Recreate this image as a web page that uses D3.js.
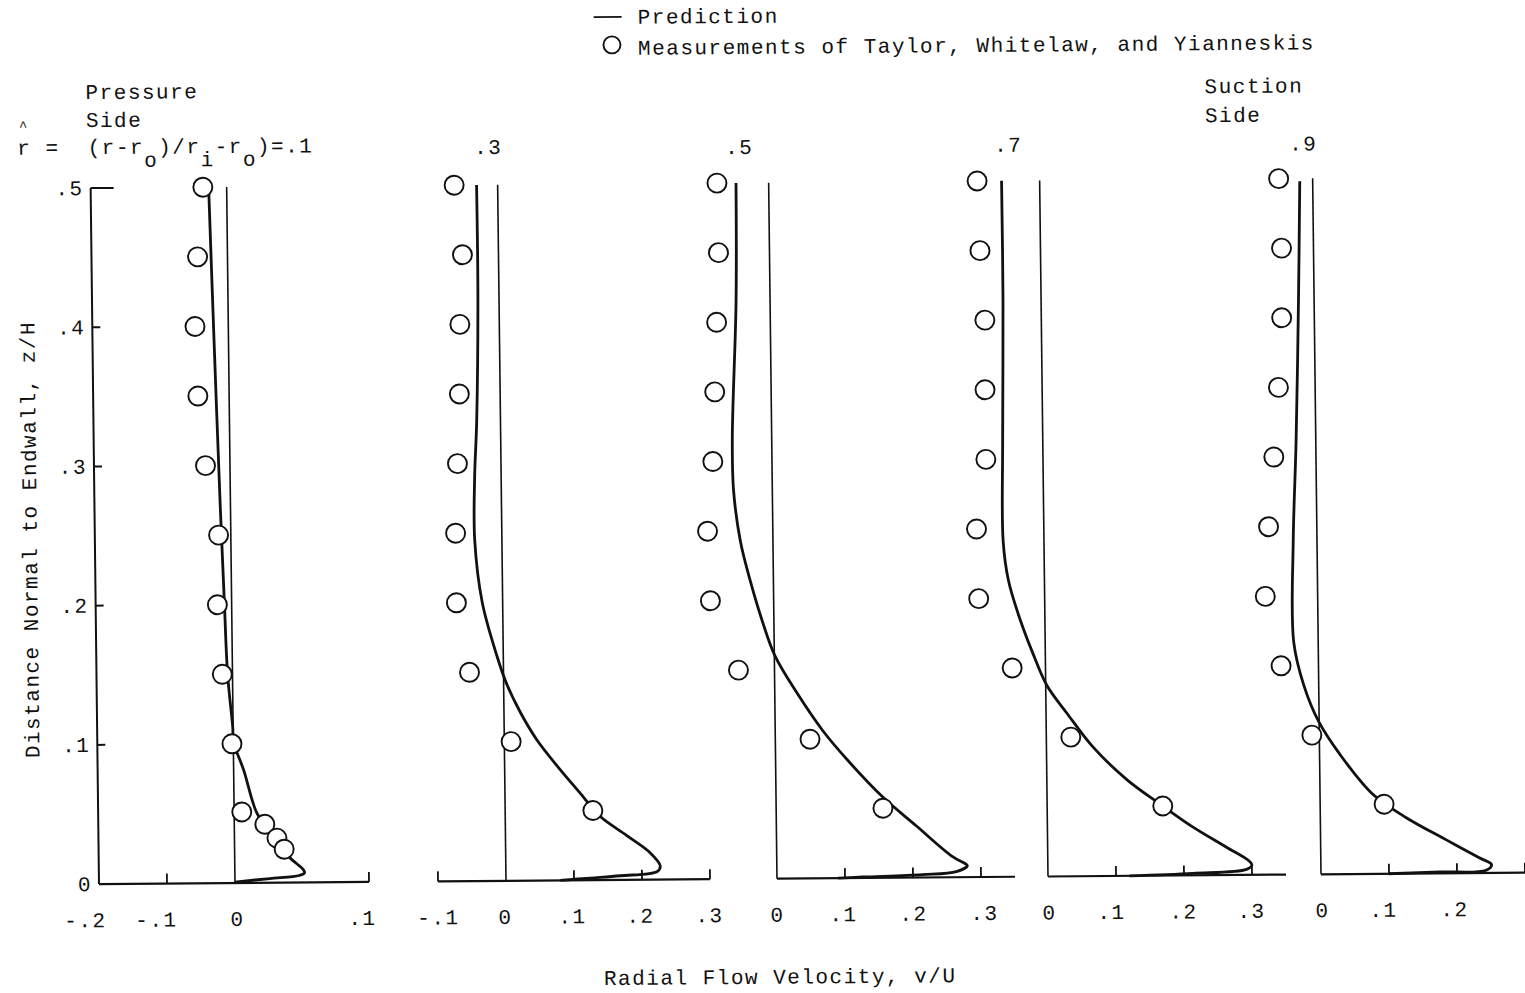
<!DOCTYPE html>
<html>
<head>
<meta charset="utf-8">
<script src="https://cdn.jsdelivr.net/npm/d3@7"></script>
<style>
  body { margin: 0; background: #fff; }
  svg text { font-family: "Liberation Mono", monospace; font-size: 21px; letter-spacing: 1.5px; fill: #111; }
</style>
</head>
<body>
<svg id="chart" width="1525" height="993"></svg>
<script>
// values: [z/H, v/U]
const predP1 = [[0.5,-0.0265],[0.385,-0.021],[0.27,-0.015],[0.2,-0.0106],[0.15,-0.0072],[0.112,-0.0006],[0.101,0.0003],[0.081,0.0075],[0.05,0.017],[0.0345,0.028],[0.018,0.041],[0.0093,0.051],[0.007,0.052],[0.005,0.048],[0.003,0.026],[0.0007,0]]
const predP2 = [[0.5,-0.031],[0.42,-0.031],[0.33,-0.035],[0.29,-0.039],[0.245,-0.040],[0.2,-0.030],[0.161,-0.009],[0.142,0.004],[0.121,0.024],[0.101,0.048],[0.08,0.081],[0.063,0.110],[0.046,0.139],[0.032,0.178],[0.02,0.211],[0.01,0.227],[0.006,0.223],[0.003,0.168],[0.0015,0.124],[0,0.08]]
const predP3 = [[0.5,-0.048],[0.415,-0.050],[0.315,-0.058],[0.279,-0.057],[0.243,-0.048],[0.214,-0.034],[0.185,-0.017],[0.16,0.001],[0.133,0.033],[0.106,0.070],[0.083,0.109],[0.058,0.157],[0.037,0.206],[0.015,0.258],[0.009,0.279],[0.008,0.280],[0.004,0.264],[0.002,0.214],[0.0007,0.126],[0,0.09]]
const predP4 = [[0.5,-0.056],[0.414,-0.056],[0.313,-0.059],[0.241,-0.060],[0.213,-0.053],[0.184,-0.036],[0.16,-0.018],[0.137,0.002],[0.117,0.031],[0.093,0.068],[0.069,0.118],[0.05,0.170],[0.035,0.213],[0.02,0.263],[0.01,0.296],[0.007,0.300],[0.004,0.292],[0.0014,0.213],[0,0.12]]
const predP5 = [[0.498,-0.019],[0.412,-0.023],[0.311,-0.029],[0.239,-0.035],[0.167,-0.036],[0.136,-0.022],[0.11,-0.001],[0.086,0.030],[0.057,0.078],[0.04,0.127],[0.024,0.185],[0.011,0.233],[0.006,0.251],[0.002,0.243],[0.001,0.175],[0,0.1]]

const measP1 = [[0.5,-0.035],[0.45,-0.044],[0.4,-0.049],[0.35,-0.046],[0.3,-0.036],[0.25,-0.018],[0.2,-0.021],[0.15,-0.015],[0.1,-0.002],[0.051,0.0057],[0.042,0.0228],[0.032,0.0317],[0.024,0.037]]
const measP2 = [[0.5,-0.064],[0.45,-0.053],[0.4,-0.058],[0.35,-0.060],[0.3,-0.064],[0.25,-0.068],[0.2,-0.068],[0.15,-0.050],[0.1,0.010],[0.05,0.129]]
const measP3 = [[0.5,-0.076],[0.45,-0.075],[0.4,-0.079],[0.35,-0.083],[0.3,-0.087],[0.25,-0.096],[0.2,-0.093],[0.15,-0.053],[0.1,0.051],[0.05,0.157]]
const measP4 = [[0.5,-0.092],[0.45,-0.089],[0.4,-0.083],[0.35,-0.084],[0.3,-0.084],[0.25,-0.099],[0.2,-0.097],[0.15,-0.049],[0.1,0.036],[0.05,0.170]]
const measP5 = [[0.5,-0.050],[0.45,-0.047],[0.4,-0.048],[0.35,-0.054],[0.3,-0.062],[0.25,-0.071],[0.2,-0.077],[0.15,-0.055],[0.1,-0.011],[0.05,0.094]]

// tick labels
const xTickLabels = [[-0.2,-0.1,0,0.1],[-0.1,0,0.1,0.2,0.3],[0,0.1,0.2,0.3],[0,0.1,0.2,0.3],[0,0.1,0.2]]
const yTicks = [0,0.1,0.2,0.3,0.4,0.5]
const headLabels = [null, ".3", ".5", ".7", ".9"]

const predictions = [predP1, predP2, predP3, predP4, predP5]
const measurements = [measP1, measP2, measP3, measP4, measP5]

// panel layout
const layout = [
    {zero: 235, dom: [-0.2, 0.1], ticks: [-0.1, 0.1], dx: [-14, -11, 2, -7], hx: 0, hy: 0},
    {zero: 506, dom: [-0.1, 0.3], ticks: [-0.1, 0.1, 0.2, 0.3], dx: [0, -1, -2, -2, -1], hx: 497, hy: 156},
    {zero: 777, dom: [0, 0.35], ticks: [0.1, 0.2, 0.3], dx: [0, -2, 0, 3], hx: 748, hy: 158},
    {zero: 1048, dom: [0, 0.35], ticks: [0.1, 0.2, 0.3], dx: [1, -5, -1, -1], hx: 1017, hy: 158},
    {zero: 1321, dom: [0, 0.3], ticks: [0.1, 0.2, 0.3], dx: [1, -6, -3], hx: 1312, hy: 159}
]

const fmt = v => v === 0 ? "0" : d3.format(".1f")(v).replace("−", "-").replace("0.", ".")

const svg = d3.select("#chart")
// the scanned figure sits slightly askew
const g = svg.append("g").attr("transform", "matrix(1,-0.008,0.012,1,-10.6,1.88)")

const y = d3.scaleLinear().domain([0, 0.5]).range([883, 187])

// y axis on the first panel
g.append("line").attr("x1", 99).attr("x2", 99).attr("y1", y(0.5)).attr("y2", y(0))
    .attr("stroke", "#111").attr("stroke-width", 2)
g.selectAll(".ytick").data(yTicks.filter(d => d > 0)).join("line")
    .attr("x1", 99).attr("x2", d => d === 0.5 ? 122 : 107)
    .attr("y1", d => y(d)).attr("y2", d => y(d))
    .attr("stroke", "#111").attr("stroke-width", 2)
g.selectAll(".ylab").data(yTicks).join("text")
    .attr("x", 92).attr("y", d => y(d) + 7)
    .attr("text-anchor", "end")
    .text(fmt)

const line = d3.line().curve(d3.curveCatmullRom.alpha(0.5))

layout.forEach((p, i) => {
    const x = i === 0
        ? d3.scaleLinear().domain([-0.2, 0, 0.1]).range([99, 235, 369])
        : d3.scaleLinear().domain([0, 0.1]).range([p.zero, p.zero + 68])

    const panel = g.append("g")

    // zero line
    panel.append("line").attr("x1", x(0)).attr("x2", x(0)).attr("y1", y(0.5)).attr("y2", y(0))
        .attr("stroke", "#111").attr("stroke-width", 1.6)

    // baseline and ticks
    panel.append("line").attr("x1", x(p.dom[0])).attr("x2", x(p.dom[1])).attr("y1", y(0)).attr("y2", y(0))
        .attr("stroke", "#111").attr("stroke-width", 2.2)
    panel.selectAll(".tick").data(p.ticks).join("line")
        .attr("x1", d => x(d)).attr("x2", d => x(d)).attr("y1", y(0)).attr("y2", y(0) - 10)
        .attr("stroke", "#111").attr("stroke-width", 1.8)
    panel.selectAll(".xlab").data(xTickLabels[i]).join("text")
        .attr("x", (d, j) => x(d) + p.dx[j]).attr("y", 926)
        .attr("text-anchor", "middle")
        .text(fmt)

    // prediction
    panel.append("path")
        .attr("d", line(predictions[i].map(d => [x(d[1]), y(d[0])])))
        .attr("fill", "none").attr("stroke", "#111").attr("stroke-width", 2.8)
        .attr("stroke-linejoin", "round")

    // measurements
    panel.selectAll("circle").data(measurements[i]).join("circle")
        .attr("cx", d => x(d[1])).attr("cy", d => y(d[0])).attr("r", 9.5)
        .attr("fill", "#fff").attr("stroke", "#111").attr("stroke-width", 1.9)

    if (headLabels[i]) {
        panel.append("text").attr("x", p.hx).attr("y", p.hy).attr("text-anchor", "middle").text(headLabels[i])
    }
})

// first panel heading: r-hat = (r-ro)/(ri-ro) = .1
g.append("text").attr("x", 28).attr("y", 129).style("font-size", "14px").text("^")
const h = g.append("text").attr("x", 26).attr("y", 153).style("white-space", "pre")
h.append("tspan").text("r =  (r-r")
h.append("tspan").attr("dy", 13).text("o")
h.append("tspan").attr("dy", -13).text(")/r")
h.append("tspan").attr("dy", 13).text("i")
h.append("tspan").attr("dy", -13).text("-r")
h.append("tspan").attr("dy", 13).text("o")
h.append("tspan").attr("dy", -13).text(")=.1")

g.append("text").attr("x", 95).attr("y", 98).text("Pressure")
g.append("text").attr("x", 95).attr("y", 126).text("Side")
g.append("text").attr("x", 1214).attr("y", 101).text("Suction")
g.append("text").attr("x", 1214).attr("y", 130).text("Side")

// legend
g.append("line").attr("x1", 604).attr("x2", 632).attr("y1", 20).attr("y2", 20)
    .attr("stroke", "#111").attr("stroke-width", 1.8)
g.append("text").attr("x", 648).attr("y", 27).text("Prediction")
g.append("circle").attr("cx", 622).attr("cy", 48).attr("r", 8.5)
    .attr("fill", "#fff").attr("stroke", "#111").attr("stroke-width", 1.9)
g.append("text").attr("x", 648).attr("y", 58).text("Measurements of Taylor, Whitelaw, and Yianneskis")

// axis titles
g.append("text").attr("transform", "translate(41,538) rotate(-90)").attr("text-anchor", "middle")
    .text("Distance Normal to Endwall, z/H")
g.append("text").attr("x", 779).attr("y", 988).attr("text-anchor", "middle")
    .text("Radial Flow Velocity, v/U")
</script>
</body>
</html>
